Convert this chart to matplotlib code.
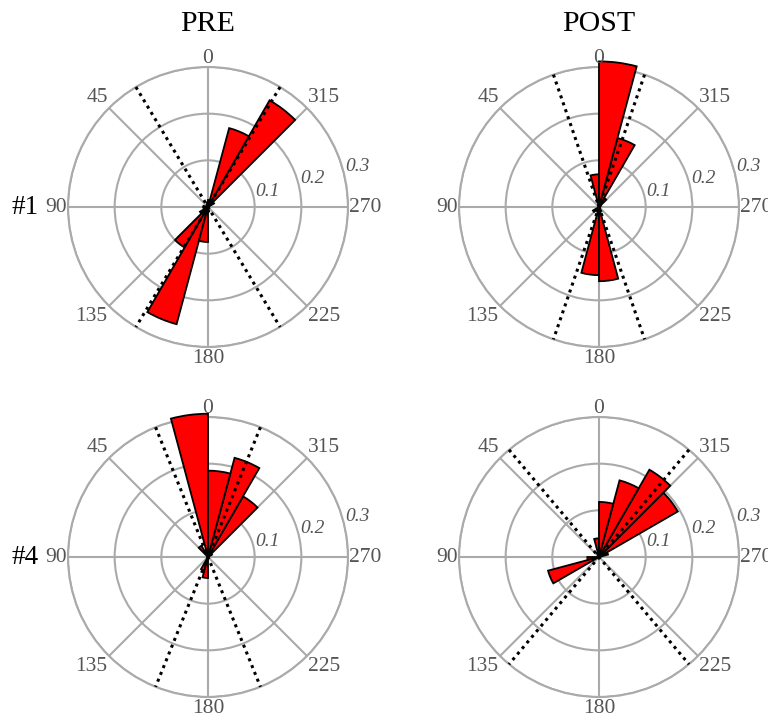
import numpy as np
import matplotlib
matplotlib.use("Agg")
import matplotlib.pyplot as plt

plt.rcParams['font.family'] = ['Liberation Serif', 'DejaVu Serif']

# 24 bins of 15 degrees, bin i covers [15*i, 15*i + 15), counter-clockwise from north
bin_edges = np.arange(0, 361, 15)

pre_1 = [0.010, 0.005, 0, 0, 0, 0.010, 0.010, 0, 0.020, 0.100, 0.260, 0.075,
         0.010, 0, 0, 0, 0, 0, 0, 0, 0.015, 0.264, 0.175, 0.015]
post_1 = [0.070, 0.005, 0, 0, 0, 0, 0, 0, 0.015, 0.010, 0, 0.146,
          0.159, 0.010, 0, 0, 0, 0, 0, 0, 0.005, 0.022, 0.153, 0.312]
pre_4 = [0.307, 0, 0.028, 0, 0, 0, 0, 0, 0, 0, 0.030, 0.045,
         0, 0, 0, 0, 0, 0, 0, 0, 0.010, 0.150, 0.220, 0.185]
post_4 = [0.040, 0.010, 0, 0, 0, 0, 0.025, 0.113, 0, 0, 0, 0,
          0, 0, 0, 0, 0, 0, 0, 0.020, 0.195, 0.216, 0.170, 0.118]

# axial directions of the dotted lines (degrees)
pre_1_lines = [31, 329]
post_1_lines = [19, 341]
pre_4_lines = [22, 338]
post_4_lines = [40, 320]

col_titles = ['PRE', 'POST']
row_titles = ['#1', '#4']
theta_ticks = [0, 45, 90, 135, 180, 225, 270, 315]
r_ticks = [0.1, 0.2, 0.3]
r_max = 0.3

panels = [(pre_1, pre_1_lines), (post_1, post_1_lines),
          (pre_4, pre_4_lines), (post_4, post_4_lines)]

grid_col = '#aaaaaa'
label_col = '#555555'

# alignment of each angle label so its nearest corner sits on the rim
align = {0: ('center', 'bottom'), 45: ('right', 'bottom'),
         90: ('right', 'center'), 135: ('right', 'top'),
         180: ('center', 'top'), 225: ('left', 'top'),
         270: ('left', 'center'), 315: ('left', 'bottom')}
label_r = {0: 0.298, 90: 0.302, 270: 0.302}

fig = plt.figure(figsize=(7.68, 7.18), dpi=100)

W, H = 768, 718
centers = [(208, 207), (599, 207), (208, 557), (599, 557)]
R = 140

centers_deg = bin_edges[:-1] + 7.5
for (vals, lines), (cx, cy) in zip(panels, centers):
    ax = fig.add_axes([(cx - R) / W, (H - cy - R) / H, 2 * R / W, 2 * R / H],
                      projection='polar')
    ax.set_theta_zero_location('N')
    ax.set_theta_direction(1)
    ax.set_ylim(0, r_max)
    ax.set_axisbelow(True)

    ax.bar(np.radians(centers_deg), vals, width=np.radians(15), color='red',
           edgecolor='black', linewidth=1.3, clip_on=False, zorder=3)

    for a in lines:
        t = np.radians(a)
        ax.plot([t, t + np.pi], [r_max, r_max], color='black',
                linestyle=(0, (1, 1.4)), linewidth=2.2, zorder=4, clip_on=False)

    ax.set_thetagrids(theta_ticks, ['' for _ in theta_ticks])
    ax.set_rgrids(r_ticks, labels=['' for _ in r_ticks])
    ax.grid(True, color=grid_col, linewidth=1.5)
    ax.spines['polar'].set_color(grid_col)
    ax.spines['polar'].set_linewidth(1.5)
    ax.tick_params(axis='x', length=0)

    for t in theta_ticks:
        ha, va = align[t]
        ax.text(np.radians(t), label_r.get(t, 0.304), str(t), fontsize=15.5,
                color=label_col, ha=ha, va=va)
    for r in r_ticks:
        ax.text(np.radians(285), r + 0.032, f'{r:.1f}', fontsize=14,
                style='italic', color=label_col, ha='center', va='center')

for j, t in enumerate(col_titles):
    fig.text(centers[j][0] / W, 1 - 24 / H, t, fontsize=21.5,
             ha='center', va='center')
for i, t in enumerate(row_titles):
    fig.text(25 / W, 1 - centers[2 * i][1] / H, t, fontsize=19.5,
             ha='center', va='center')

fig.savefig('out.png', dpi=100)
